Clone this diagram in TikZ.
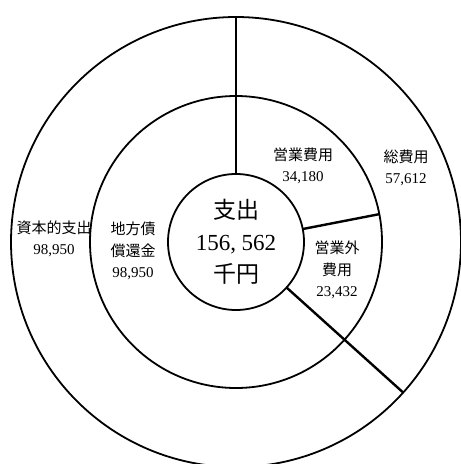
\documentclass[tikz,border=0pt]{standalone}
\usepackage{fontspec}
\setmainfont{Liberation Serif}
\newfontfamily\jp{Noto Sans CJK JP}
\begin{document}
\begin{tikzpicture}[x=1pt,y=1pt,
  ring/.style={circle,draw,line width=1.8pt,inner sep=0pt,outer sep=0pt},
  divider/.style={line width=2.4pt},
  lbl/.style={align=center,inner sep=0pt,font=\fontsize{15}{21.5}\selectfont},
  big/.style={align=center,inner sep=0pt,font=\fontsize{23}{32}\selectfont}]
\useasboundingbox (0,0) rectangle (461,-464);
\clip (0,0) rectangle (461,-464);
\coordinate (c) at (236,-242);
\node[ring,minimum size=450pt] (outer) at (c) {};
\node[ring,minimum size=292pt] (middle) at (c) {};
\node[ring,minimum size=136pt] (inner) at (c) {};
% dividers
\draw[divider] (inner.90) -- (outer.90);
\draw[divider] (inner.11.4) -- (middle.11.4);
\draw[divider] (inner.-42.5) -- (outer.-42.5);
% labels
\node[big] (total) at (236,-242) {{\jp 支出}\\156, 562\\{\jp 千円}};
\node[lbl] (eigyo) at (303,-166) {{\jp 営業費用}\\34,180};
\node[lbl] (sohiyo) at (406,-168) {{\jp 総費用}\\57,612};
\node[lbl] (shihon) at (54,-239) {{\jp 資本的支出}\\98,950};
\node[lbl] (chiho) at (133,-251) {{\jp 地方債}\\{\jp 償還金}\\98,950};
\node[lbl] (eigyogai) at (337,-270) {{\jp 営業外}\\{\jp 費用}\\23,432};
\end{tikzpicture}
\end{document}
